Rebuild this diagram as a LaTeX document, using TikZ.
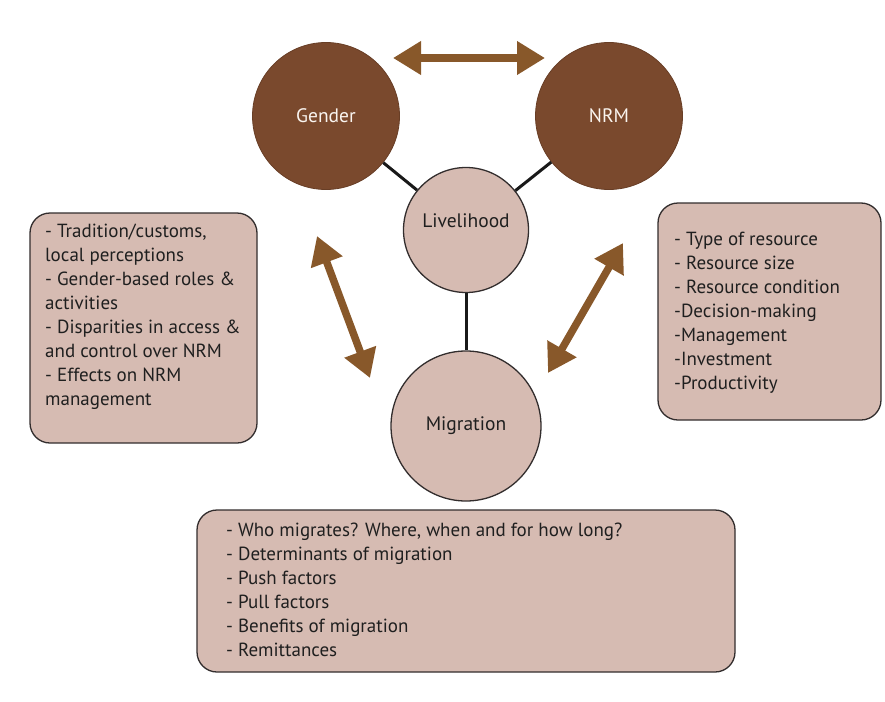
\documentclass[tikz,border=0pt]{standalone}
\usepackage{fontspec}
\setmainfont{PT Sans}
\usetikzlibrary{arrows.meta,positioning}

\definecolor{darkbrown}{RGB}{122,73,45}
\definecolor{arrowbrown}{RGB}{136,88,42}
\definecolor{lightbrown}{RGB}{214,187,178}
\definecolor{edgegray}{RGB}{50,45,45}

\tikzset{
    darkcircle/.style={circle,fill=darkbrown,draw=darkbrown!85!black,line width=0.8pt,
        text=white!92!brown,font=\fontsize{19.5}{22}\selectfont,minimum size=147pt,inner sep=0pt},
    lightcircle/.style={circle,fill=lightbrown,draw=edgegray,line width=1.3pt,
        text=black!88,font=\fontsize{19.5}{22}\selectfont,inner sep=0pt},
    listbox/.style={rectangle,rounded corners=20pt,fill=lightbrown,draw=edgegray,line width=1.3pt,inner sep=0pt},
    listtext/.style={align=left,anchor=north west,inner sep=0pt,font=\fontsize{19}{24}\selectfont,text=black!88},
    link/.style={line width=3pt,black!90},
    twoway/.style={{Triangle[width=32pt,length=28pt]}-{Triangle[width=32pt,length=28pt]},line width=7.5pt,arrowbrown}
}

\begin{document}
\begin{tikzpicture}[x=1pt,y=-1pt]
    \useasboundingbox (0,0) rectangle (885,701);

    % the three list boxes
    \node[listbox,minimum width=227pt,minimum height=230pt] (genderbox) at (143.5,328) {};
    \node[listbox,minimum width=223pt,minimum height=217pt] (nrmbox) at (769.5,311.5) {};
    \node[listbox,minimum width=538pt,minimum height=162pt] (migbox) at (466,591) {};

    \node[listtext] (gendertext) at (45,224) {- Tradition/customs,\\local perceptions\\- Gender-based roles \&\\activities\\- Disparities in access \&\\and control over NRM\\- Effects on NRM\\management};
    \node[listtext] (nrmtext) at (674,232) {- Type of resource\\- Resource size\\- Resource condition\\-Decision-making\\-Management\\-Investment\\-Productivity};
    \node[listtext] (migtext) at (226,523) {- Who migrates? Where, when and for how long?\\- Determinants of migration\\- Push factors\\- Pull factors\\- Benefits of migration\\- Remittances};

    % circles
    \node[darkcircle] (gender) at (326,116) {Gender};
    \node[darkcircle] (nrm) at (609,116) {NRM};
    \node[lightcircle,minimum size=125pt] (livelihood) at (466,230) {\raisebox{9pt}[\height][\depth]{Livelihood}};
    \node[lightcircle,minimum size=150pt] (migration) at (466,426) {Migration};

    \draw[link] (gender) -- (livelihood);
    \draw[link] (nrm) -- (livelihood);
    \draw[link] (livelihood) -- (migration);

    % two-way arrows
    \coordinate (topleft) at (393,58);
    \coordinate (topright) at (545,58);
    \coordinate (leftup) at (317,236);
    \coordinate (leftdown) at (370,378);
    \coordinate (rightup) at (623,243);
    \coordinate (rightdown) at (548,373);

    \draw[twoway] (topleft) -- (topright);
    \draw[twoway] (leftup) -- (leftdown);
    \draw[twoway] (rightdown) -- (rightup);
\end{tikzpicture}
\end{document}
